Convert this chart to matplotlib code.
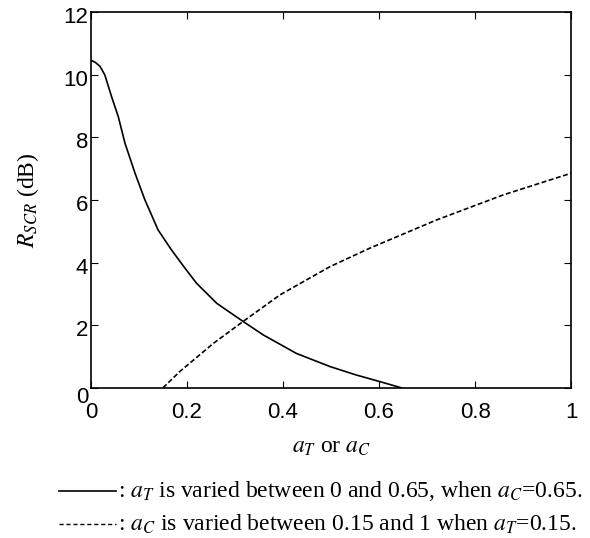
import matplotlib
matplotlib.use('Agg')
import matplotlib.pyplot as plt
import matplotlib.transforms as mtransforms
from matplotlib.lines import Line2D

plt.rcParams['mathtext.fontset'] = 'stix'

# a_T varied, a_C = 0.65
aT_x = [0, 0.01, 0.019, 0.029, 0.043, 0.057, 0.071, 0.092, 0.1125, 0.14,
        0.168, 0.196, 0.22, 0.262, 0.317, 0.359, 0.428, 0.498, 0.553,
        0.602, 0.647]
aT_y = [10.46, 10.38, 10.26, 9.99, 9.30, 8.66, 7.81, 6.85, 6.0, 5.04,
        4.40, 3.82, 3.34, 2.70, 2.12, 1.69, 1.10, 0.68, 0.41,
        0.20, 0.0]

# a_C varied, a_T = 0.15
aC_x = [0.15, 0.185, 0.255, 0.317, 0.394, 0.498, 0.581, 0.72, 0.859, 1.0]
aC_y = [0.0, 0.52, 1.42, 2.12, 2.97, 3.87, 4.46, 5.36, 6.16, 6.85]

xticks = [0, 0.2, 0.4, 0.6, 0.8, 1]
xticklabels = ['0', '0.2', '0.4', '0.6', '0.8', '1']
yticks = [0, 2, 4, 6, 8, 10, 12]

fig = plt.figure(figsize=(5.9, 5.38), dpi=100)
ax = fig.add_axes([0.154, 0.279, 0.814, 0.699])

ax.plot(aT_x, aT_y, color='black', linewidth=1.2)
ax.plot(aC_x, aC_y, color='black', linewidth=1.2, dashes=(3, 1.5))

ax.set_xlim(0, 1)
ax.set_ylim(0, 12)
ax.set_xticks(xticks)
ax.set_xticklabels(xticklabels)
ax.set_yticks(yticks)
ax.tick_params(direction='in', top=True, right=True, labelsize=16,
               length=5, width=0.8)
ax.tick_params(axis='x', pad=10)
ax.tick_params(axis='y', pad=2)
for lab in ax.get_xticklabels() + ax.get_yticklabels():
    lab.set_family('Liberation Sans')
# matlab style: y labels sit a little low, the 0 even lower
for lab, t in zip(ax.get_yticklabels(), yticks):
    dy = -7 if t == 0 else -3
    lab.set_transform(lab.get_transform() +
                      mtransforms.ScaledTranslation(0, dy / 100, fig.dpi_scale_trans))
for s in ax.spines.values():
    s.set_linewidth(1.2)

ax.set_xlabel(r'$a_T$ or $a_C$', fontsize=17, family='Liberation Serif', labelpad=10)
ax.set_ylabel(r'$R_{SCR}$ (dB)', fontsize=17, family='Liberation Serif', labelpad=16)

# legend drawn below the axes
fig.add_artist(Line2D([59 / 590, 116 / 590], [1 - 491 / 538] * 2,
                      color='black', linewidth=1.2))
fig.add_artist(Line2D([59 / 590, 116 / 590], [1 - 524 / 538] * 2,
                      color='black', linewidth=1.0, dashes=(3, 2)))
fig.text(118 / 590, 1 - 491 / 538,
         r': $a_T$ is varied between 0 and 0.65, when $a_C$=0.65.',
         fontsize=17, family='Liberation Serif', va='center')
fig.text(118 / 590, 1 - 524 / 538,
         r': $a_C$ is varied between 0.15 and 1 when $a_T$=0.15.',
         fontsize=17, family='Liberation Serif', va='center')

fig.savefig('out.png', dpi=100)
